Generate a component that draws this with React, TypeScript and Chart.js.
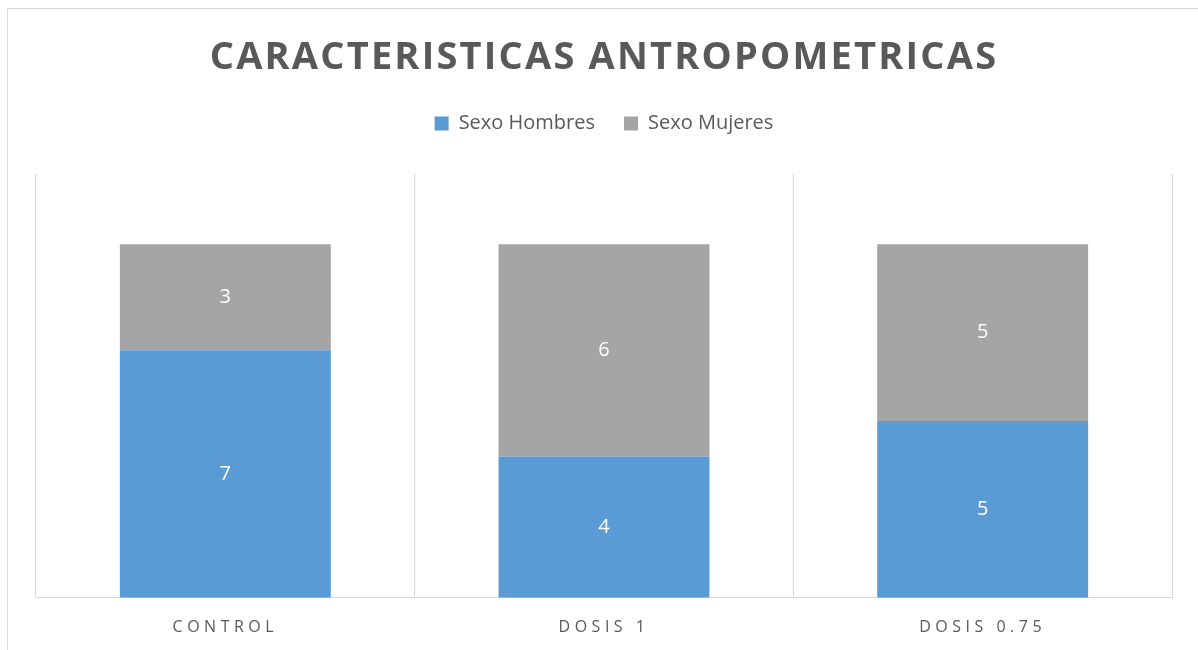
import React, { useEffect, useRef } from "react";
import { Chart, registerables } from "chart.js";

Chart.register(...registerables);

const TITLE = "CARACTERISTICAS ANTROPOMETRICAS";
const CATEGORIES = ["CONTROL", "DOSIS 1", "DOSIS 0.75"];
const SERIES_NAMES = ["Sexo Hombres", "Sexo Mujeres"];
const HOMBRES = [7, 4, 5];
const MUJERES = [3, 6, 5];
const Y_MAX = 12;

const BLUE = "#5B9BD5";
const GRAY = "#A5A5A5";
const TEXT = "#595959";
const GRID = "#D9D9D9";
const FONT = "'Open Sans', sans-serif";

const framePlugin = {
  id: "frame",
  beforeDraw(chart: any) {
    const ctx = chart.ctx;
    ctx.save();
    ctx.strokeStyle = GRID;
    ctx.lineWidth = 1;
    ctx.beginPath();
    ctx.moveTo(7.5, chart.height);
    ctx.lineTo(7.5, 8.5);
    ctx.lineTo(chart.width, 8.5);
    ctx.stroke();
    ctx.restore();
  },
};

const spacingPlugin = {
  id: "spacing",
  beforeDraw(chart: any) {
    const x: any = chart.scales.x;
    if (x && !x.__patched) {
      const orig = x.drawLabels.bind(x);
      x.drawLabels = (area: any) => {
        const ctx = chart.ctx;
        ctx.save();
        ctx.letterSpacing = "4.5px";
        orig(area);
        ctx.restore();
      };
      x.__patched = true;
    }
    const t: any = chart.titleBlock;
    if (t && !t.__patched) {
      const origT = t.draw.bind(t);
      t.draw = (area: any) => {
        const ctx = chart.ctx;
        ctx.save();
        ctx.letterSpacing = "2.2px";
        origT(area);
        ctx.restore();
      };
      t.__patched = true;
    }
  },
};

const valueLabels = {
  id: "valueLabels",
  afterDatasetsDraw(chart: any) {
    const ctx = chart.ctx;
    ctx.save();
    ctx.fillStyle = "#FFFFFF";
    ctx.font = `20px ${FONT}`;
    ctx.textAlign = "center";
    ctx.textBaseline = "middle";
    chart.data.datasets.forEach((ds: any, di: number) => {
      const meta = chart.getDatasetMeta(di);
      meta.data.forEach((el: any, i: number) => {
        const v = ds.data[i];
        const y = (el.y + el.base) / 2;
        ctx.fillText(String(v), el.x, y);
      });
    });
    ctx.restore();
  },
};

export default function App() {
  const ref = useRef<HTMLCanvasElement | null>(null);
  useEffect(() => {
    if (!ref.current) return;
    const chart = new Chart(ref.current, {
      type: "bar",
      data: {
        labels: CATEGORIES,
        datasets: [
          {
            label: SERIES_NAMES[0],
            data: HOMBRES,
            backgroundColor: BLUE,
            borderWidth: 0,
            categoryPercentage: 0.557,
            barPercentage: 1,
          },
          {
            label: SERIES_NAMES[1],
            data: MUJERES,
            backgroundColor: GRAY,
            borderWidth: 0,
            categoryPercentage: 0.557,
            barPercentage: 1,
          },
        ],
      },
      options: {
        responsive: false,
        animation: false,
        layout: { padding: { top: 13, left: 36, right: 26, bottom: -7 } },
        plugins: {
          title: {
            display: true,
            text: TITLE,
            color: TEXT,
            font: { family: FONT, size: 38, weight: "bold", lineHeight: 1.2 },
            padding: { top: 22, bottom: 4 },
          },
          subtitle: {
            display: true,
            text: " ",
            weight: 500,
            font: { size: 10, lineHeight: 1 },
            padding: { top: 20, bottom: 0 },
          } as any,
          legend: {
            display: true,
            position: "top",
            labels: {
              color: TEXT,
              boxWidth: 14,
              boxHeight: 14,
              padding: 29,
              font: { family: FONT, size: 20 },
            },
          },
          tooltip: { enabled: false },
        },
        scales: {
          x: {
            stacked: true,
            grid: { display: true, color: GRID, lineWidth: 1, drawTicks: false, offset: true },
            border: { display: true, color: GRID, width: 1 },
            ticks: {
              color: TEXT,
              padding: 20,
              font: { family: FONT, size: 16, lineHeight: 1.2 },
            },
          },
          y: {
            stacked: true,
            display: false,
            min: 0,
            max: Y_MAX,
          },
        },
      },
      plugins: [framePlugin, spacingPlugin, valueLabels],
    });
    return () => chart.destroy();
  }, []);
  return (
    <div style={{ position: "fixed", left: 0, top: 0, width: 1198, height: 650, background: "#FFFFFF" }}>
      <canvas ref={ref} width={1198} height={650} style={{ display: "block" }} />
    </div>
  );
}
